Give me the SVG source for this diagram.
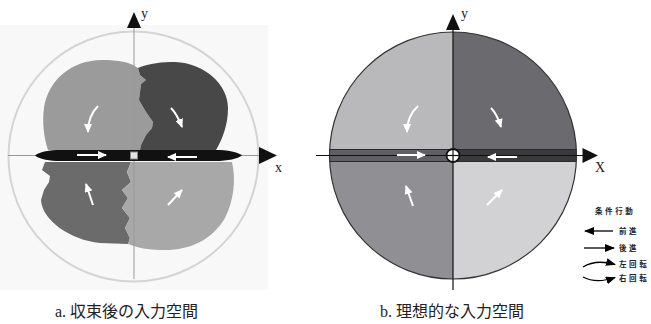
<svg xmlns="http://www.w3.org/2000/svg" width="651" height="324" viewBox="0 0 651 324">
<style>
.wa{fill:none;stroke:#fff;stroke-width:2;marker-end:url(#wh)}
.ba{fill:none;stroke:#000;stroke-width:1.3;marker-end:url(#bh)}
.ax{font-family:"Liberation Serif",serif;font-size:14px;fill:#222}
.cap{font-family:"Liberation Serif","Noto Sans CJK JP",serif;font-size:16px;fill:#222}
.lg{font-family:"Noto Sans CJK JP",sans-serif;font-size:7.5px;font-weight:bold;letter-spacing:2.6px;fill:#222}
</style>
<defs>
<marker id="wh" markerUnits="userSpaceOnUse" markerWidth="9" markerHeight="8" viewBox="0 0 9 8" refX="8" refY="4" orient="auto"><path d="M0,0 L9,4 L0,8 Z" fill="#fff"/></marker>
<marker id="bh" markerUnits="userSpaceOnUse" markerWidth="10" markerHeight="8" viewBox="0 0 10 8" refX="9" refY="4" orient="auto"><path d="M0,0 L10,4 L0,8 Z" fill="#000"/></marker>
</defs>

<g id="panel-a">
<rect x="0" y="25" width="268" height="265" fill="#f8f8f8"/>
<circle cx="133.5" cy="156.5" r="125" fill="none" stroke="#d4d4d4" stroke-width="2"/>
<path d="M140,150 L48,150 C44,138 42,122 44,108 C48,80 72,60 102,60 C118,60 130,62 138,68 L140,75 L146,80 L141,84 L139,100 L146,112 L153,122 L152,128 L146,135 L141,145 Z" fill="#9b9b9b"/>
<path d="M138,68 C150,63 162,62 175,62 C205,63 228,85 228,108 C228,124 223,138 216,150 L140,150 L141,145 L146,135 L152,128 L153,122 L146,112 L139,100 L141,84 L146,80 L140,75 Z" fill="#484848"/>
<path d="M45,162 L42,170 L50,176 L49,182 L44,190 L41,200 C42,220 70,240 100,243 L128,244 L130,238 L125,228 L130,218 L122,208 L128,198 L122,190 L131,182 L127,172 L131,162 Z" fill="#6b6b6b"/>
<path d="M131,162 L232,162 C236,180 234,200 225,218 C212,240 190,250 165,250 C150,250 138,248 131,245 L128,244 L130,238 L125,228 L130,218 L122,208 L128,198 L122,190 L131,182 L127,172 Z" fill="#a8a8a8"/>
<line x1="134" y1="26" x2="134" y2="279" stroke="#999" stroke-width="1"/>
<line x1="8" y1="155.5" x2="260" y2="155.5" stroke="#999" stroke-width="1"/>
<path d="M35,155.5 C40,151.5 50,150 60,150 L215,150 C228,150 238,152 242,155.5 C238,158.5 228,161 215,161 L60,161 C50,161 40,159.5 35,155.5 Z" fill="#111"/>
<rect x="130.5" y="152" width="7" height="7" fill="#e2e2e2" stroke="#888" stroke-width="1"/>
<path d="M127,28 L134,12 L141,28 Z" fill="#111"/>
<path d="M259,147 L277,155.5 L259,164 Z" fill="#111"/>
<text class="ax" x="141" y="18">y</text>
<text class="ax" x="275" y="172">x</text>
<path class="wa" d="M98,106 Q88,116 88,132"/>
<path class="wa" d="M171,108 Q177,114 182,127"/>
<path class="wa" d="M93,205 L86,184"/>
<path class="wa" d="M168,205 L182,190"/>
<path class="wa" d="M77,155 L106,155"/>
<path class="wa" d="M197,157 L168,157"/>
<text class="cap" x="55" y="317">a. 収束後の入力空間</text>
</g>

<g id="panel-b">
<path d="M453,155.5 L329.5,155.5 A123.5,123.5 0 0 1 453,32 Z" fill="#b9b9bb"/>
<path d="M453,155.5 L453,32 A123.5,123.5 0 0 1 576.5,155.5 Z" fill="#6b6b6f"/>
<path d="M453,155.5 L576.5,155.5 A123.5,123.5 0 0 1 453,279 Z" fill="#d2d2d4"/>
<path d="M453,155.5 L453,279 A123.5,123.5 0 0 1 329.5,155.5 Z" fill="#909094"/>
<rect x="329.5" y="149.5" width="123.5" height="12" fill="#606064"/>
<rect x="453" y="149.5" width="123.5" height="12" fill="#3a3a3d"/>
<line x1="329.5" y1="149.5" x2="576.5" y2="149.5" stroke="#2a2a2a" stroke-width="1"/>
<line x1="329.5" y1="161.5" x2="576.5" y2="161.5" stroke="#2a2a2a" stroke-width="1"/>
<circle cx="453" cy="155.5" r="123.5" fill="none" stroke="#333" stroke-width="1.2"/>
<line x1="453" y1="28" x2="453" y2="290" stroke="#111" stroke-width="1.2"/>
<line x1="316" y1="155.5" x2="583" y2="155.5" stroke="#111" stroke-width="1.2"/>
<path d="M446,30 L453,14 L460,30 Z" fill="#111"/>
<path d="M582.5,148 L598,155.5 L582.5,163 Z" fill="#111"/>
<text class="ax" x="461" y="18">y</text>
<text class="ax" x="595" y="172">X</text>
<path class="wa" d="M418,106 Q407,116 407,132"/>
<path class="wa" d="M491,108 Q497,114 501,127"/>
<path class="wa" d="M413,206 L406,186"/>
<path class="wa" d="M487,205 L502,190"/>
<path class="wa" d="M397,155 L425,155"/>
<path class="wa" d="M517,157 L488,157"/>
<circle cx="453" cy="155.5" r="6.5" fill="#fff" stroke="#111" stroke-width="1.8"/>
<line x1="446.5" y1="155.5" x2="459.5" y2="155.5" stroke="#111" stroke-width="1.2"/>
<line x1="453" y1="149" x2="453" y2="162" stroke="#111" stroke-width="1.2"/>
<text class="cap" x="380" y="317">b. 理想的な入力空間</text>
</g>

<g id="legend">
<text class="lg" x="595" y="214">条件行動</text>
<path class="ba" d="M613,231 L585,231"/>
<text class="lg" x="619" y="234">前進</text>
<path class="ba" d="M584,248 L614,248"/>
<text class="lg" x="619" y="251">後進</text>
<path class="ba" d="M583,267 Q596,259 615,264.5"/>
<text class="lg" x="619" y="267">左回転</text>
<path class="ba" d="M583,277 Q596,284 615,277.5"/>
<text class="lg" x="619" y="281">右回転</text>
</g>
</svg>
